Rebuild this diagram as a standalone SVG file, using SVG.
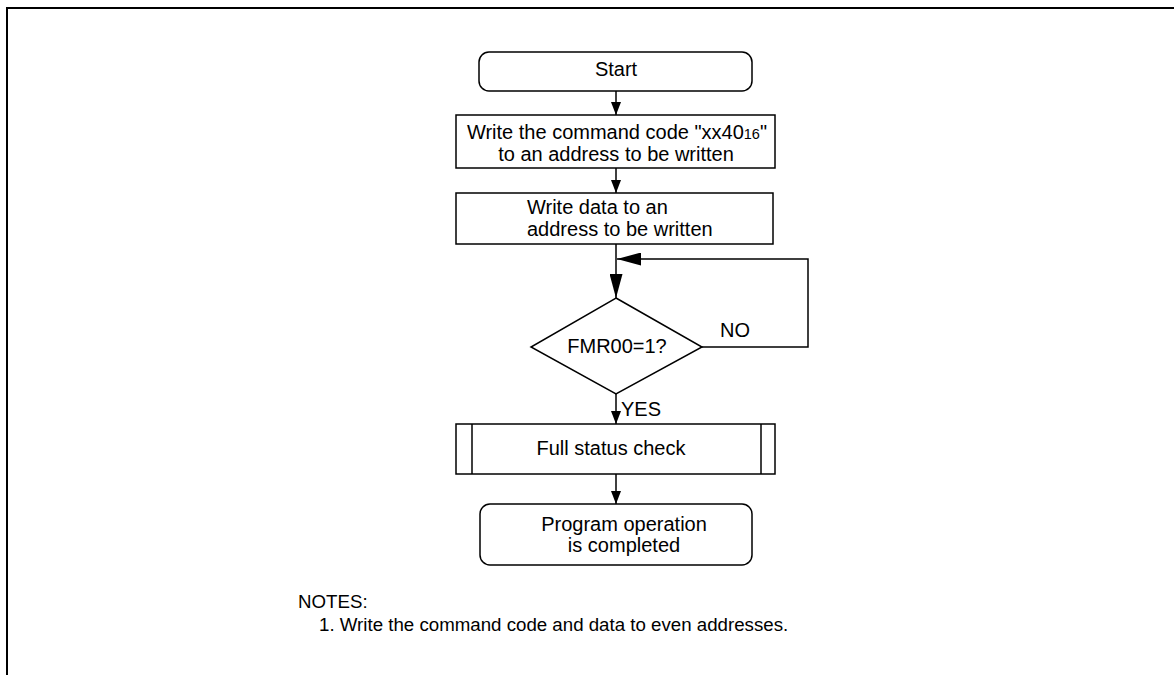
<svg xmlns="http://www.w3.org/2000/svg" width="1174" height="675" viewBox="0 0 1174 675">
<style>
.box{fill:#fff;stroke:#000;stroke-width:1.5}
.ln{fill:none;stroke:#000;stroke-width:1.5}
.t{font-family:"Liberation Sans",Arial,sans-serif;font-size:20px;fill:#000}
.c{text-anchor:middle}
.n{font-family:"Liberation Sans",Arial,sans-serif;font-size:18.7px;fill:#000}
</style>
<defs>
<marker id="sa" markerUnits="userSpaceOnUse" markerWidth="13" markerHeight="10" refX="13" refY="5" orient="auto"><path d="M0,0 L13,5 L0,10 z" fill="#000"/></marker>
<marker id="ba" markerUnits="userSpaceOnUse" markerWidth="24" markerHeight="13" refX="24" refY="6.5" orient="auto"><path d="M0,0 L24,6.5 L0,13 z" fill="#000"/></marker>
</defs>
<rect width="1174" height="675" fill="#fff"/>
<path d="M7,676 V8 H1175" fill="none" stroke="#000" stroke-width="2"/>
<g id="connectors">
<line class="ln" x1="616" y1="91" x2="616" y2="115" marker-end="url(#sa)"/>
<line class="ln" x1="616" y1="168" x2="616" y2="193" marker-end="url(#sa)"/>
<line class="ln" x1="616" y1="244" x2="616" y2="298" marker-end="url(#ba)"/>
<polyline class="ln" points="702,347 808,347 808,259 617,259" marker-end="url(#ba)"/>
<line class="ln" x1="616" y1="394" x2="616" y2="424" marker-end="url(#sa)"/>
<line class="ln" x1="616" y1="474" x2="616" y2="504" marker-end="url(#sa)"/>
<text class="t" x="720" y="337">NO</text>
<text class="t" x="621" y="416">YES</text>
</g>
<g id="start">
<rect class="box" x="479" y="52" width="273" height="39" rx="10"/>
<text class="t c" x="616" y="76">Start</text>
</g>
<g id="write-command">
<rect class="box" x="456" y="115" width="319" height="53"/>
<text class="t c" x="617" y="139" font-size="19.3">Write the command code "xx40<tspan font-size="14.5">16</tspan>"</text>
<text class="t c" x="616" y="161">to an address to be written</text>
</g>
<g id="write-data">
<rect class="box" x="456" y="193" width="317" height="51"/>
<text class="t" x="527" y="214">Write data to an</text>
<text class="t" x="527" y="235.5">address to be written</text>
</g>
<g id="decision">
<polygon class="box" points="616,298 702,347 616,394 531,347"/>
<text class="t c" x="617" y="353">FMR00=1?</text>
</g>
<g id="status-check">
<rect class="box" x="456" y="424" width="319" height="50"/>
<line class="ln" x1="472" y1="424" x2="472" y2="474"/>
<line class="ln" x1="761" y1="424" x2="761" y2="474"/>
<text class="t c" x="611" y="455">Full status check</text>
</g>
<g id="end">
<rect class="box" x="480" y="504" width="272" height="61" rx="10"/>
<text class="t c" x="624" y="531">Program operation</text>
<text class="t c" x="624" y="552">is completed</text>
</g>
<g id="notes">
<text class="n" x="298" y="608">NOTES:</text>
<text class="n" x="319" y="630.5">1. Write the command code and data to even addresses.</text>
</g>
</svg>
